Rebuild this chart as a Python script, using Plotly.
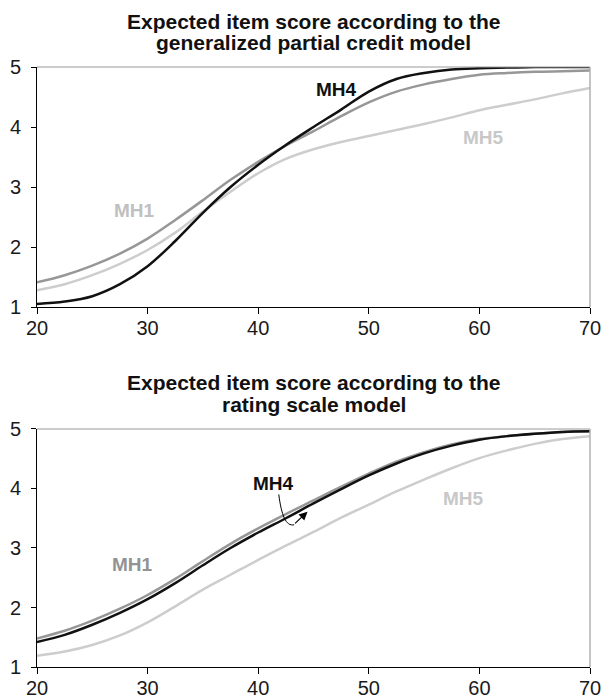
import plotly.graph_objects as go
from plotly.subplots import make_subplots

x_vals = [20, 22.5, 25, 27.5, 30, 32.5, 35, 37.5, 40, 42.5, 45, 47.5, 50, 52.5, 55, 57.5, 60, 62.5, 65, 67.5, 70]

# Generalized partial credit model
gpc_mh1 = [1.41, 1.53, 1.69, 1.89, 2.14, 2.45, 2.78, 3.12, 3.42, 3.69, 3.93, 4.18, 4.41, 4.59, 4.71, 4.80, 4.87, 4.90, 4.92, 4.93, 4.94]
gpc_mh4 = [1.05, 1.09, 1.18, 1.38, 1.68, 2.10, 2.57, 3.00, 3.37, 3.70, 4.00, 4.29, 4.59, 4.80, 4.90, 4.96, 4.98, 4.99, 5.00, 5.00, 5.00]
gpc_mh5 = [1.28, 1.38, 1.53, 1.72, 1.95, 2.24, 2.59, 2.92, 3.23, 3.47, 3.63, 3.75, 3.85, 3.95, 4.05, 4.16, 4.28, 4.37, 4.46, 4.56, 4.65]

# Rating scale model
rs_mh1 = [1.48, 1.61, 1.78, 1.98, 2.21, 2.48, 2.78, 3.07, 3.33, 3.57, 3.80, 4.03, 4.25, 4.45, 4.61, 4.74, 4.83, 4.88, 4.92, 4.95, 4.96]
rs_mh4 = [1.42, 1.54, 1.71, 1.91, 2.14, 2.41, 2.71, 3.00, 3.26, 3.50, 3.75, 3.99, 4.22, 4.42, 4.59, 4.72, 4.82, 4.88, 4.92, 4.95, 4.96]
rs_mh5 = [1.19, 1.26, 1.37, 1.53, 1.75, 2.02, 2.30, 2.55, 2.80, 3.04, 3.27, 3.51, 3.73, 3.95, 4.15, 4.34, 4.51, 4.64, 4.75, 4.83, 4.88]

x_ticks = [20, 30, 40, 50, 60, 70]
y_ticks = [1, 2, 3, 4, 5]

title_top = ["Expected item score according to the", "generalized partial credit model"]
title_bottom = ["Expected item score according to the", "rating scale model"]

C1 = "#979797"
C4 = "#111111"
C5 = "#cdcdcd"

fig = make_subplots(rows=2, cols=1, vertical_spacing=0.2)

for row, (a, b, c) in enumerate([(gpc_mh1, gpc_mh4, gpc_mh5), (rs_mh1, rs_mh4, rs_mh5)], start=1):
    fig.add_trace(go.Scatter(x=x_vals, y=c, mode="lines", line=dict(color=C5, width=2.5, shape="spline", smoothing=1), showlegend=False), row=row, col=1)
    fig.add_trace(go.Scatter(x=x_vals, y=a, mode="lines", line=dict(color=C1, width=2.5, shape="spline", smoothing=1), showlegend=False), row=row, col=1)
    fig.add_trace(go.Scatter(x=x_vals, y=b, mode="lines", line=dict(color=C4, width=2.5, shape="spline", smoothing=1), showlegend=False), row=row, col=1)

font = "Liberation Sans, Arial, sans-serif"
axis_common = dict(showgrid=False, zeroline=False, showline=True, linecolor="#000000", linewidth=1,
                   ticks="outside", tickcolor="#000000", automargin=False, ticklabeloverflow="allow",
                   tickfont=dict(family=font, size=20, color="#1a1a1a"))
for r in (1, 2):
    fig.update_xaxes(range=[20, 70], tickvals=x_ticks, ticklen=6, ticklabelstandoff=-3, row=r, col=1, **axis_common)
    fig.update_yaxes(range=[1, 5], tickvals=y_ticks, ticklen=5, ticklabelstandoff=6, row=r, col=1, **axis_common)

fig.update_yaxes(domain=[0.6, 1.0], row=1, col=1)
fig.update_yaxes(domain=[0.0, 0.3967], row=2, col=1)

shapes = []
for xr, yr in (("x", "y"), ("x2", "y2")):
    shapes.append(dict(type="line", xref=xr + " domain", yref=yr + " domain", x0=0, x1=1, y0=1, y1=1,
                       line=dict(color="#999999", width=1.2)))
    shapes.append(dict(type="line", xref=xr + " domain", yref=yr + " domain", x0=1, x1=1, y0=0, y1=1,
                       line=dict(color="#b0b0b0", width=1.5)))
# curved pointer for MH4 in lower chart
shapes.append(dict(type="path", xref="x2", yref="y2",
                   path="M 41.86,3.90 C 42.1,3.55 42.5,3.36 43.25,3.39",
                   line=dict(color="#000000", width=1)))
fig.update_layout(shapes=shapes)


def py(p):
    # pixel row -> paper coordinate (plot area spans rows 67..667)
    return (667 - p) / 600.0


tfont = dict(family=font, size=21, color="#111111")
annotations = []
for txt, p in zip(title_top + title_bottom, [21, 43, 383, 404.5]):
    annotations.append(dict(text="<b>%s</b>" % txt, x=0.5, y=py(p), xref="paper", yref="paper",
                            xanchor="center", yanchor="middle", showarrow=False, font=tfont))

lfont = 19
annotations += [
    dict(text="<b>MH4</b>", x=47.1, y=4.62, xref="x", yref="y", showarrow=False, font=dict(family=font, size=lfont, color="#111111")),
    dict(text="<b>MH5</b>", x=60.4, y=3.82, xref="x", yref="y", showarrow=False, font=dict(family=font, size=lfont, color="#c8c8c8")),
    dict(text="<b>MH1</b>", x=28.85, y=2.61, xref="x", yref="y", showarrow=False, font=dict(family=font, size=lfont, color="#c0c0c0")),
    dict(text="<b>MH4</b>", x=41.4, y=4.08, xref="x2", yref="y2", showarrow=False, font=dict(family=font, size=lfont, color="#111111")),
    dict(text="<b>MH1</b>", x=28.67, y=2.72, xref="x2", yref="y2", showarrow=False, font=dict(family=font, size=lfont, color="#939393")),
    dict(text="<b>MH5</b>", x=58.6, y=3.84, xref="x2", yref="y2", showarrow=False, font=dict(family=font, size=lfont, color="#c8c8c8")),
    dict(text="", x=44.46, y=3.61, ax=43.2, ay=3.39, xref="x2", yref="y2", axref="x2", ayref="y2",
         showarrow=True, arrowhead=2, arrowsize=1.4, arrowwidth=1.2, arrowcolor="#000000"),
]

fig.update_layout(width=601, height=699, margin=dict(l=37, r=11, t=67, b=32),
                  paper_bgcolor="white", plot_bgcolor="white", annotations=annotations,
                  font=dict(family=font))

fig.write_html("out.html", config={"displayModeBar": False},
               post_script="document.documentElement.style.margin='0';document.body.style.margin='0';document.body.style.padding='0';document.body.style.overflow='hidden';")
